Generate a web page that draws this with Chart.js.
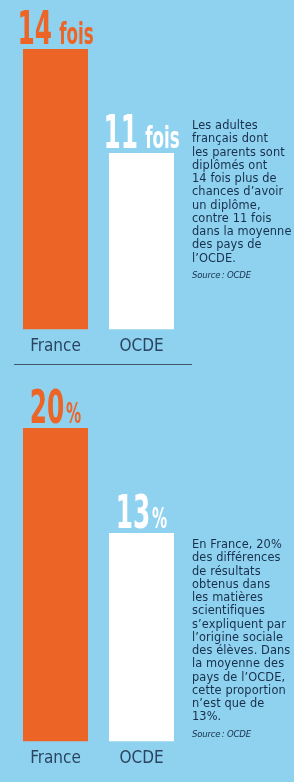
<!DOCTYPE html>
<html lang="fr">
<head>
<meta charset="utf-8">
<script src="https://cdn.jsdelivr.net/npm/chart.js@4.4.1/dist/chart.umd.min.js"></script>
<style>
  html, body { margin: 0; padding: 0; }
  body {
    width: 294px; height: 782px; overflow: hidden; position: relative;
    background: #8fd2ef;
  }
  canvas { position: absolute; left: 0; display: block; }
  .note {
    position: absolute; left: 192px; width: 110px;
    font-family: "DejaVu Sans", sans-serif; font-size: 11.4px; line-height: 13.25px;
    letter-spacing: 0.1px;
    color: #172f4a; white-space: nowrap;
  }
  .note .src {
    display: block; margin-top: 3px;
    font-family: "DejaVu Sans Condensed", sans-serif;
    font-style: italic; font-size: 9.5px; letter-spacing: -0.2px;
  }
  .sep { position: absolute; left: 14px; top: 364px; width: 178px; height: 1px; background: #44596c; }
</style>
</head>
<body>
<canvas id="chartDiplome" width="200" height="365" style="top:0"></canvas>
<div class="sep"></div>
<canvas id="chartResultats" width="200" height="412" style="top:370px"></canvas>

<div class="note" id="noteDiplome" style="top:119px"></div>
<div class="note" id="noteResultats" style="top:538px"></div>

<script>
const categories = ['France', 'OCDE'];

const valuesDiplome = [14, 11];
const unitDiplome = 'fois';

const valuesResultats = [20, 13];
const unitResultats = '%';

const noteDiplome = [
    'Les adultes', 'français dont', 'les parents sont', 'diplômés ont',
    '14 fois plus de', 'chances d\u2019avoir', 'un diplôme,', 'contre 11 fois',
    'dans la moyenne', 'des pays de', 'l\u2019OCDE.'
];
const noteResultats = [
    'En France, 20%', 'des différences', 'de résultats', 'obtenus dans',
    'les matières', 'scientifiques', 's\u2019expliquent par', 'l\u2019origine sociale',
    'des élèves. Dans', 'la moyenne des', 'pays de l\u2019OCDE,', 'cette proportion',
    'n\u2019est que de', '13%.'
];
const sourceText = 'Source\u202F: OCDE';

const ORANGE = '#ec6426';
const WHITE = '#ffffff';
const NAVY = '#2a4560';
const NARROW = '"DejaVu Sans Condensed", sans-serif';

function fillNote(id, lines) {
    const el = document.getElementById(id);
    el.innerHTML = lines.join('<br>') + '<span class="src">' + sourceText + '</span>';
}
fillNote('noteDiplome', noteDiplome);
fillNote('noteResultats', noteResultats);

// draws "14 fois" / "20%" style labels above each bar
const valueLabels = {
    id: 'valueLabels',
    afterDatasetsDraw(chart, args, opts) {
        const ctx = chart.ctx;
        const meta = chart.getDatasetMeta(0);
        const data = chart.data.datasets[0].data;
        const colors = chart.data.datasets[0].backgroundColor;
        const bigFont = 'bold 46px ' + NARROW;
        const smallFont = 'bold ' + opts.unitSize + 'px ' + NARROW;
        meta.data.forEach((bar, i) => {
            const num = String(data[i]);
            ctx.save();
            ctx.translate(bar.x, bar.y - opts.offset);
            ctx.scale(0.6, 1);
            ctx.font = bigFont;
            const w1 = ctx.measureText(num).width;
            ctx.font = smallFont;
            const w2 = ctx.measureText(opts.unit).width;
            const start = -(w1 + opts.gap + w2) / 2;
            ctx.fillStyle = colors[i];
            ctx.textBaseline = 'alphabetic';
            ctx.textAlign = 'left';
            ctx.font = bigFont;
            ctx.fillText(num, start, 0);
            ctx.font = smallFont;
            ctx.fillText(opts.unit, start + w1 + opts.gap, 0);
            ctx.restore();
        });
    }
};

function makeChart(id, values, unit, unitSize, gap, yMin, padTop, padBottom) {
    return new Chart(document.getElementById(id), {
        type: 'bar',
        data: {
            labels: categories,
            datasets: [{
                data: values,
                base: yMin,
                backgroundColor: [ORANGE, WHITE],
                borderWidth: 0,
                barPercentage: 0.756,
                categoryPercentage: 1
            }]
        },
        options: {
            responsive: false,
            animation: false,
            layout: { padding: { left: 12.5, right: 15.5, top: padTop, bottom: padBottom } },
            plugins: {
                legend: { display: false },
                tooltip: { enabled: false },
                valueLabels: { unit: unit, unitSize: unitSize, gap: gap, offset: 5 }
            },
            scales: {
                x: {
                    grid: { display: false, drawTicks: false },
                    border: { display: false },
                    ticks: {
                        padding: 7,
                        color: NAVY,
                        font: { family: NARROW, size: 17 }
                    }
                },
                y: {
                    display: false,
                    min: yMin,
                    max: values[0]
                }
            }
        },
        plugins: [valueLabels]
    });
}

makeChart('chartDiplome', valuesDiplome, unitDiplome, 31, 12, 5.9, 49, 1);
makeChart('chartResultats', valuesResultats, unitResultats, 28, 3, -0.9, 58, 6);
</script>
</body>
</html>
